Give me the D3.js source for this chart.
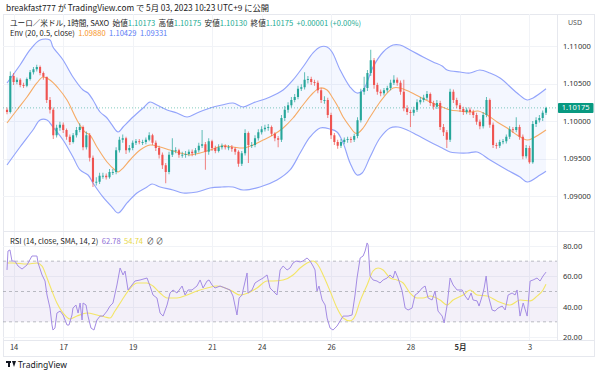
<!DOCTYPE html>
<html><head><meta charset="utf-8">
<script src="https://cdn.jsdelivr.net/npm/d3@7"></script>
<style>body{margin:0;background:#fff;} svg{display:block;font-family:"Noto Sans CJK JP","Noto Sans",sans-serif;}</style>
</head><body><svg id="c" width="600" height="375"></svg>
<script>
// ---------- DATA (2-hour candles; index i sits at hourly bar 2*i) ----------
const firstOpen = 1.1015;
const closes = [
1.1012,1.1060,1.1052,1.1055,1.1048,1.1047,1.1056,1.1065,1.1069,1.1072,
1.1064,1.1059,1.1028,1.1015,1.0981,1.0991,1.0995,1.0988,1.0979,1.0972,
1.0981,1.0988,1.0992,1.0965,1.0981,1.0951,1.0919,1.0919,1.0927,1.0927,
1.0925,1.0932,1.0932,1.0961,1.0975,1.0977,1.0961,1.0964,1.0971,1.0973,
1.0972,1.0972,1.0975,1.0981,1.0971,1.0964,1.0955,1.0941,1.0932,1.0955,
1.0961,1.0961,1.0955,1.0955,1.0956,1.0959,1.0957,1.0961,1.0967,1.0969,
1.0959,1.0973,1.0964,1.0960,1.0965,1.0967,1.0965,1.0965,1.0963,1.0959,
1.0943,1.0957,1.0984,1.0968,1.0968,1.0977,1.0985,1.0989,1.0991,1.0992,
1.0983,1.0977,1.0975,1.1004,1.1015,1.1021,1.1028,1.1032,1.1043,1.1045,
1.1055,1.1056,1.1052,1.1051,1.1041,1.1028,1.1028,1.1008,1.0981,1.0972,
1.0967,1.0972,1.0975,1.0976,1.0975,1.0980,1.1001,1.1039,1.1044,1.1064,
1.1081,1.1048,1.1039,1.1037,1.1041,1.1044,1.1051,1.1055,1.1051,1.1039,
1.1017,1.1012,1.1011,1.1015,1.1025,1.1028,1.1031,1.1036,1.1024,1.1019,
1.1024,1.0992,1.0985,1.0975,1.1039,1.1028,1.1021,1.1016,1.1012,1.1015,
1.1012,1.1008,1.0999,1.0993,1.1008,1.1028,1.0995,1.0968,1.0967,1.0972,
1.0973,1.0979,1.0989,1.0988,1.0992,1.0979,1.0953,1.0964,1.0945,1.0996,
1.1001,1.1004,1.1011,1.10175];
const highs = [
1.1018,1.1066,1.1064,1.1058,1.1057,1.1051,1.1058,1.1068,1.1072,1.1075,
1.1074,1.1066,1.1058,1.1032,1.1018,1.0995,1.0999,1.0998,1.0990,1.0982,
1.0984,1.0992,1.0997,1.0994,1.0986,1.0984,1.0954,1.0925,1.0931,1.0931,
1.0930,1.0936,1.0936,1.0965,1.0979,1.0982,1.0979,1.0968,1.0974,1.0976,
1.0976,1.0975,1.0978,1.0985,1.0983,1.0974,1.0967,1.0958,1.0944,1.0959,
1.0977,1.0965,1.0963,1.0959,1.0960,1.0962,1.0962,1.0964,1.0971,1.0988,
1.0972,1.0977,1.0975,1.0967,1.0969,1.0970,1.0969,1.0968,1.0968,1.0965,
1.0961,1.0960,1.0989,1.0986,1.0972,1.0981,1.0989,1.0993,1.0995,1.0996,
1.0994,1.0985,1.0980,1.1008,1.1020,1.1025,1.1032,1.1036,1.1047,1.1049,
1.1065,1.1060,1.1059,1.1055,1.1054,1.1044,1.1033,1.1031,1.1011,1.0984,
1.0975,1.0976,1.0978,1.0979,1.0979,1.0983,1.1005,1.1043,1.1059,1.1068,
1.1095,1.1084,1.1051,1.1042,1.1044,1.1047,1.1055,1.1061,1.1058,1.1054,
1.1055,1.1021,1.1015,1.1019,1.1029,1.1032,1.1035,1.1040,1.1038,1.1027,
1.1028,1.1027,1.0996,1.0988,1.1043,1.1042,1.1031,1.1024,1.1019,1.1018,
1.1018,1.1015,1.1011,1.1002,1.1012,1.1032,1.1030,1.0998,1.0971,1.0975,
1.0976,1.0982,1.0993,1.0992,1.1005,1.0995,1.0982,1.0968,1.0967,1.1000,
1.1005,1.1008,1.1014,1.1019];
const lows = [
1.1009,1.1010,1.1048,1.1049,1.1045,1.1044,1.1045,1.1054,1.1062,1.1066,
1.1061,1.1055,1.1024,1.1010,1.0976,1.0978,1.0987,1.0984,1.0975,1.0968,
1.0970,1.0978,1.0985,1.0961,1.0962,1.0946,1.0912,1.0914,1.0916,1.0923,
1.0922,1.0923,1.0928,1.0929,1.0958,1.0971,1.0956,1.0958,1.0961,1.0968,
1.0969,1.0968,1.0969,1.0973,1.0968,1.0960,1.0950,1.0936,1.0917,1.0929,
1.0952,1.0957,1.0951,1.0951,1.0951,1.0953,1.0953,1.0954,1.0958,1.0964,
1.0935,1.0955,1.0960,1.0957,1.0958,1.0962,1.0962,1.0961,1.0959,1.0955,
1.0939,1.0940,1.0954,1.0944,1.0964,1.0965,1.0974,1.0982,1.0986,1.0987,
1.0980,1.0973,1.0965,1.0972,1.1000,1.1011,1.1018,1.1025,1.1029,1.1040,
1.1042,1.1050,1.1048,1.1047,1.1037,1.1024,1.1023,1.1004,1.0976,1.0968,
1.0963,1.0964,1.0969,1.0971,1.0971,1.0972,1.0977,1.0998,1.1035,1.1040,
1.1060,1.1043,1.1035,1.1033,1.1034,1.1038,1.1041,1.1048,1.1047,1.1035,
1.1013,1.1008,1.0992,1.1007,1.1012,1.1022,1.1025,1.1028,1.1020,1.1015,
1.1016,1.0988,1.0980,1.0964,1.0972,1.1024,1.1017,1.1012,1.1008,1.1009,
1.1008,1.1004,1.0995,1.0989,1.0990,1.1005,1.0991,1.0964,1.0963,1.0964,
1.0969,1.0970,1.0976,1.0984,1.0985,1.0975,1.0949,1.0950,1.0943,1.0943,
1.0992,1.0998,1.1000,1.1008];

// Envelope (20, 0.5): [hourly bar, price]
const envUpper = [[0,1.10507],[7.9,1.10747],[13.9,1.10947],[20,1.1108],[26,1.1108],[27.8,1.10987],[33.9,1.10813],[39.9,1.10587],[46,1.10413],[49,1.10373],[52,1.1028],[56.3,1.1012],[60.5,1.1004],[63.5,1.09947],[67.2,1.09853],[70.2,1.0992],[76.2,1.10053],[82.3,1.10173],[86.5,1.10253],[90.7,1.10213],[96.8,1.10147],[102.8,1.10107],[108.9,1.10053],[114.9,1.10107],[122.8,1.10173],[130,1.10213],[136.7,1.1024],[142.8,1.10187],[148.8,1.1024],[159.1,1.1032],[167,1.10413],[173,1.10547],[179,1.1072],[185.1,1.10907],[189.4,1.10987],[193.6,1.10987],[196.6,1.1092],[201.5,1.1068],[207.5,1.10453],[211.7,1.10373],[215.4,1.10413],[221.4,1.1072],[227.5,1.1092],[233.5,1.11013],[237.7,1.11013],[243.8,1.10947],[251.7,1.10853],[257.7,1.10787],[263.2,1.10733],[266.2,1.1068],[274,1.10653],[280,1.1064],[286,1.1068],[292,1.1064],[298.2,1.10573],[308.5,1.10373],[314.6,1.1028],[318.2,1.10307],[326,1.10429]];
const envLower = [[0,1.09413],[7.9,1.09653],[15.7,1.0988],[20,1.10013],[24.2,1.10013],[27.8,1.0992],[33.9,1.09747],[39.9,1.0952],[44.2,1.09347],[49,1.0928],[52,1.09173],[58,1.08987],[63.5,1.08853],[67.2,1.08773],[72.6,1.08907],[78.6,1.0904],[84.7,1.0912],[87.7,1.0916],[92.6,1.0912],[100.4,1.0908],[106.5,1.0904],[114.9,1.09053],[122.8,1.09107],[130,1.0912],[136.7,1.0912],[142.8,1.0908],[153,1.0912],[163.3,1.09213],[171.2,1.09347],[177.3,1.09573],[183.3,1.09787],[189.4,1.09907],[195.4,1.09893],[199.6,1.09853],[203.3,1.09707],[207.5,1.0944],[211.7,1.0928],[214.8,1.09307],[219.6,1.0952],[225.6,1.09773],[231.7,1.09907],[236.5,1.0992],[242,1.0988],[248,1.09813],[255.9,1.0972],[263.2,1.0964],[268,1.09587],[278.3,1.09573],[284.3,1.09587],[292.2,1.0948],[302.5,1.09347],[310.3,1.09253],[314.6,1.09187],[322.4,1.0928],[326,1.09331]];
const envBasis = [[0,1.09973],[6,1.10147],[12.1,1.1032],[18.1,1.10507],[21.8,1.10587],[26,1.10547],[30.9,1.1044],[36.3,1.1028],[42.3,1.10013],[47.2,1.09853],[50.2,1.09813],[54.4,1.09653],[60.5,1.09453],[65.3,1.09347],[67.2,1.0932],[70.2,1.09373],[74.4,1.0948],[80.5,1.09613],[86.5,1.0968],[92.6,1.09653],[98.6,1.09613],[104.7,1.09573],[110.7,1.09547],[116.8,1.09573],[122.8,1.09613],[130,1.09667],[136.7,1.09653],[142.8,1.0964],[148.8,1.0968],[154.9,1.09747],[160.9,1.09813],[167,1.09907],[173,1.1004],[179,1.10213],[185.1,1.10373],[189.4,1.1044],[193.6,1.10413],[196.6,1.1032],[199.6,1.10213],[203.3,1.10053],[207.5,1.0992],[210.5,1.0984],[212.3,1.0984],[215.4,1.09907],[219.6,1.10053],[225.6,1.10253],[229.9,1.10373],[233.5,1.1044],[237.7,1.1044],[243.8,1.10387],[249.8,1.1032],[255.9,1.10253],[263.2,1.10187],[268,1.10147],[274,1.10133],[280,1.1012],[284.9,1.10133],[290.4,1.1008],[296.4,1.09987],[302.5,1.09907],[308.5,1.09813],[314.6,1.09747],[318.2,1.09773],[326,1.0988]];

// RSI (14) and its SMA(14): [hourly bar, value]
const rsi = [[0,64.2],[0.6,76.7],[1.8,77.4],[3,70.1],[4.8,70],[6.7,66.8],[9.1,64.8],[12.1,67.5],[15.1,73.4],[18.1,73.4],[18.8,68.8],[21.2,60.9],[23,56.9],[24.2,47.7],[26,39.1],[27.2,28],[27.8,24.6],[29,25.9],[30.2,35.8],[32.1,37.1],[33.9,34.5],[36.3,27.9],[37.5,27.9],[39.3,34.5],[39.9,39.1],[41.7,41.1],[43,35.8],[44.2,42.4],[45.4,31.2],[46,42.4],[47.8,41.1],[49,33.8],[50.8,25.9],[52.6,24.6],[54.4,31.2],[56.3,33.8],[58.1,33.8],[60.5,37.1],[62.3,40.4],[64.1,42.4],[66.5,54.3],[68.4,65.5],[70.2,60.9],[71.4,63.5],[73.2,51],[75.6,54.3],[77.4,56.9],[80.5,57.6],[84.7,58.9],[86.5,53.6],[88.3,47.7],[90.7,45.7],[92.6,35.8],[94.4,33.8],[96.8,41.1],[98.6,49],[100.4,51],[102.8,49],[105.9,53.6],[107.7,47.7],[109.5,51],[111.9,51],[114.9,53.6],[116.8,57.6],[118.6,52.3],[121,56.9],[122.2,57.6],[124,54.3],[125.8,52.3],[128.9,53.6],[131.9,52.3],[134.9,51],[136.7,47],[139.1,34.5],[140.4,45.7],[142.2,47.7],[142.8,51],[145.2,62.2],[145.8,49],[148.2,51],[150,55.6],[151.8,56.9],[154.9,58.9],[157.3,60.9],[159.1,52.3],[160.9,50.3],[163.3,47.7],[165.2,64.2],[167,66.8],[169.4,64.2],[171.2,65.5],[173,68.8],[174.8,70.1],[177.3,69.5],[179,70.1],[181.5,72.1],[183.3,70.1],[185.1,66.8],[186.3,64.2],[187.5,50.3],[188.7,53.6],[190.6,44.4],[192.4,41.1],[193.6,32.5],[195.4,25.9],[197.2,24.6],[199.6,27.2],[201.5,30.6],[203.3,33.8],[206.3,33.8],[208.7,34.5],[210.5,47.7],[211.7,58.9],[213.6,72.1],[215.4,73.4],[216.6,76.7],[217.8,82],[218.4,80.7],[219.6,60.2],[221.4,57.6],[223.8,56.9],[225.6,55.6],[227.5,57.6],[229.9,58.9],[231.7,60.9],[233.5,58.9],[234.7,63.5],[236.5,58.9],[239,50.3],[240.8,39.1],[242.6,37.8],[245,39.1],[246.8,47.7],[248.6,49],[251.1,52.3],[252.9,53.6],[254.7,45.7],[257.1,44.4],[258.9,50.3],[260.7,37.1],[263.2,33.8],[264.4,29.3],[266.2,41.1],[268,58.9],[269.8,54.3],[272.2,51],[275.3,51],[277.1,47],[278.9,44.4],[280.7,49],[281.9,44.4],[284.3,43.8],[285.5,40.4],[287.4,47],[288.6,52.3],[289.8,60.2],[291,47.7],[293.4,37.8],[295.2,37.1],[297,39.1],[299.5,40.4],[301.3,37.8],[303.1,47.7],[305.5,49],[307.3,47.7],[308.5,51],[310.3,33.8],[312.2,42.4],[314.6,33.8],[316.4,56.9],[318.2,57.6],[320.6,58.9],[322.4,56.9],[324.2,60.2],[326,62.78]];
const rsiMA = [[0,68.8],[3.6,68.8],[12.1,68.1],[18.1,68.8],[21.2,66.8],[24.2,58.9],[27.2,50.3],[30.2,42.4],[33.9,35.8],[38.1,31.9],[42.3,33.8],[48.4,35.8],[54.4,34.5],[59.3,33.2],[62.3,32.5],[65.3,37.1],[69.6,44.4],[73.2,50.3],[78.6,55.6],[84.7,55.6],[88.3,53.6],[92.6,49],[96.8,45.7],[102.8,45.7],[108.9,47.7],[114.9,50.3],[121,52.3],[127,53.6],[134.9,51],[141,47.7],[145.8,49],[151.2,52.3],[157.3,56.9],[160.9,56.9],[167,57.6],[173,60.9],[177.3,65.5],[181.5,68.8],[185.1,70.1],[188.1,67.5],[191.2,60.9],[195.4,50.3],[199.6,39.1],[203.3,32.5],[207.5,30.6],[210.5,33.8],[213.6,43.8],[217.8,54.3],[221.4,63.5],[224.4,65.5],[227.5,64.2],[231.7,58.9],[235.9,57.6],[239.6,55.6],[243.8,49],[248,45.7],[251.7,45.7],[255.9,47],[261.9,44.4],[266.2,41.1],[269.8,44.4],[275.9,47.7],[280.1,51],[284.3,47.7],[290.4,47],[296.4,43.8],[304.3,41.1],[310.3,44.4],[316.4,43.8],[320.6,47],[324.2,51],[326,54.74]];

// axes labels
const timeTickBars = [4,34,76,124,154,196,244,274,316];
const timeTickLabels = ["14","17","19","21","24","26","28","5月","3"];
const priceTicks = [1.09,1.095,1.10,1.105,1.11];
const rsiTicks = [20,40,60,80];
const rsiLevels = [70,50,30];
const lastPrice = 1.10175;

// ---------- LAYOUT ----------
const svg = d3.select("#c");
const L = 3, R = 557, mainT = 14, mainB = 231, rsiB = 340, frameB = 356, frameR = 594;
const x = d3.scaleLinear().domain([0,326]).range([7,546]);
const yP = d3.scaleLinear().domain([1.09,1.11]).range([196,46]);
const yR = d3.scaleLinear().domain([20,80]).range([337,246]);
const GREEN = "#26a69a", RED = "#ef5350";

const defs = svg.append("defs");
defs.append("clipPath").attr("id","cm").append("rect").attr("x",L).attr("y",mainT).attr("width",R-L).attr("height",mainB-mainT);
defs.append("clipPath").attr("id","cr").append("rect").attr("x",L).attr("y",mainB).attr("width",R-L).attr("height",rsiB-mainB);

// frame
svg.append("rect").attr("x",L+0.5).attr("y",mainT+0.5).attr("width",frameR-L).attr("height",frameB-mainT)
  .attr("fill","none").attr("stroke","#e6e8ee");
// grid
const grid = svg.append("g").attr("stroke","#f1f3f7").attr("stroke-width",1);
grid.selectAll(".vg").data(timeTickBars).join("line")
  .attr("x1",d=>Math.round(x(d))+0.5).attr("x2",d=>Math.round(x(d))+0.5).attr("y1",mainT).attr("y2",rsiB);
grid.selectAll(".hg").data(priceTicks).join("line")
  .attr("x1",L).attr("x2",R).attr("y1",d=>Math.round(yP(d))+0.5).attr("y2",d=>Math.round(yP(d))+0.5);
grid.selectAll(".rg").data(rsiTicks).join("line")
  .attr("x1",L).attr("x2",R).attr("y1",d=>Math.round(yR(d))+0.5).attr("y2",d=>Math.round(yR(d))+0.5);
// separators
svg.append("line").attr("x1",R+0.5).attr("x2",R+0.5).attr("y1",mainT).attr("y2",rsiB).attr("stroke","#e6e8ee");
svg.append("line").attr("x1",L).attr("x2",frameR).attr("y1",mainB+0.5).attr("y2",mainB+0.5).attr("stroke","#e6e8ee");
svg.append("line").attr("x1",L).attr("x2",frameR).attr("y1",rsiB+0.5).attr("y2",rsiB+0.5).attr("stroke","#e6e8ee");

// ---------- MAIN PANE ----------
const gm = svg.append("g").attr("clip-path","url(#cm)");
const lineP = d3.line().x(d=>x(d[0])).y(d=>yP(d[1])).curve(d3.curveCatmullRom.alpha(0.5));
const upD = lineP(envUpper);
const loD = lineP(envLower.slice().reverse()).replace(/^M/,"L");
gm.append("path").attr("d",upD+loD+"Z").attr("fill","#2962ff").attr("fill-opacity",0.05);
gm.append("path").attr("d",lineP(envUpper)).attr("fill","none").attr("stroke","#93a4fb").attr("stroke-width",1.15);
gm.append("path").attr("d",lineP(envLower)).attr("fill","none").attr("stroke","#93a4fb").attr("stroke-width",1.15);
gm.append("path").attr("d",lineP(envBasis)).attr("fill","none").attr("stroke","#f6ab66").attr("stroke-width",1.1);

// last price dotted line
gm.append("line").attr("x1",L).attr("x2",R).attr("y1",yP(lastPrice)).attr("y2",yP(lastPrice))
  .attr("stroke","#089981").attr("stroke-opacity",0.5).attr("stroke-dasharray","1,2");

// candles
const candles = closes.map((c,i)=>({i, o: i? closes[i-1] : firstOpen, c, h: highs[i], l: lows[i]}));
const cg = gm.append("g");
cg.selectAll(".wk").data(candles).join("line")
  .attr("x1",d=>x(2*d.i)).attr("x2",d=>x(2*d.i))
  .attr("y1",d=>yP(d.h)).attr("y2",d=>yP(d.l))
  .attr("stroke",d=>d.c>=d.o?GREEN:RED).attr("stroke-width",0.9).attr("stroke-opacity",0.8);
cg.selectAll(".bd").data(candles).join("rect")
  .attr("x",d=>x(2*d.i)-1.05).attr("width",2.1)
  .attr("y",d=>yP(Math.max(d.o,d.c)))
  .attr("height",d=>Math.max(0.9, Math.abs(yP(d.o)-yP(d.c))))
  .attr("fill",d=>d.c>=d.o?GREEN:RED);

// price axis
const pAx = svg.append("g").attr("transform",`translate(${R},0)`)
  .call(d3.axisRight(yP).tickValues(priceTicks).tickFormat(d3.format(".5f")).tickSize(0).tickPadding(6));
pAx.select(".domain").remove();
pAx.selectAll("text").attr("font-size",7.5).attr("fill","#333").attr("font-family","Noto Sans, sans-serif");
svg.append("text").attr("x",575).attr("y",24.5).attr("text-anchor","middle").attr("font-size",7)
  .attr("fill","#555").attr("font-family","Noto Sans, sans-serif").text("USD");
// last price label
svg.append("rect").attr("x",558).attr("y",yP(lastPrice)-5).attr("width",35.5).attr("height",10).attr("rx",1).attr("fill","#089981");
svg.append("text").attr("x",575.7).attr("y",yP(lastPrice)+2.6).attr("text-anchor","middle").attr("font-size",7.5)
  .attr("fill","#fff").attr("font-family","Noto Sans, sans-serif").text(lastPrice.toFixed(5));

// ---------- RSI PANE ----------
const gr = svg.append("g").attr("clip-path","url(#cr)");
gr.append("rect").attr("x",L).attr("width",R-L).attr("y",yR(70)).attr("height",yR(30)-yR(70))
  .attr("fill","#7e57c2").attr("fill-opacity",0.09);
gr.selectAll(".lv").data(rsiLevels).join("line")
  .attr("x1",L).attr("x2",R).attr("y1",d=>yR(d)).attr("y2",d=>yR(d))
  .attr("stroke","#9598a1").attr("stroke-opacity",0.8).attr("stroke-dasharray","3,3").attr("stroke-width",0.8);
const lineR = d3.line().x(d=>x(d[0])).y(d=>yR(d[1]));
gr.append("path").attr("d",lineR.curve(d3.curveMonotoneX)(rsiMA)).attr("fill","none").attr("stroke","#f3e566").attr("stroke-width",1.1);
gr.append("path").attr("d",lineR.curve(d3.curveLinear)(rsi)).attr("fill","none").attr("stroke","#a48ce4").attr("stroke-width",1);

const rAx = svg.append("g").attr("transform",`translate(${R},0)`)
  .call(d3.axisRight(yR).tickValues(rsiTicks).tickFormat(d3.format(".2f")).tickSize(0).tickPadding(6));
rAx.select(".domain").remove();
rAx.selectAll("text").attr("font-size",7.5).attr("fill","#333").attr("font-family","Noto Sans, sans-serif");

// ---------- TIME AXIS ----------
const tAx = svg.append("g").attr("transform",`translate(0,${rsiB})`)
  .call(d3.axisBottom(x).tickValues(timeTickBars).tickFormat((d,i)=>timeTickLabels[i]).tickSize(0).tickPadding(5));
tAx.select(".domain").remove();
tAx.selectAll("text").attr("font-size",7.5).attr("fill","#333").attr("font-family","Noto Sans CJK JP, Noto Sans, sans-serif")
  .attr("font-weight",(d,i)=>timeTickLabels[i]==="5月"?"bold":"normal");

// ---------- TEXTS ----------
svg.append("text").attr("x",6).attr("y",10.5).attr("font-size",8.3).attr("fill","#222")
  .text("breakfast777 が TradingView.com で 5月 03, 2023 10:23 UTC+9 に公開");

const legend1 = [["ユーロ／米ドル, 1時間, SAXO  ","#222"],["始値","#222"],["1.10173  ","#22ab94"],["高値","#222"],["1.10175  ","#22ab94"],
  ["安値","#222"],["1.10130  ","#22ab94"],["終値","#222"],["1.10175  ","#22ab94"],["+0.00001 (+0.00%)","#22ab94"]];
const t1 = svg.append("text").attr("x",10).attr("y",25.5).attr("font-size",7.6).attr("xml:space","preserve");
t1.selectAll("tspan").data(legend1).join("tspan").attr("fill",d=>d[1]).text(d=>d[0]);
const legend2 = [["Env (20, 0.5, close)  ","#222"],["1.09880  ","#f7931e"],["1.10429  ","#5b7cf5"],["1.09331","#5b7cf5"]];
const t2 = svg.append("text").attr("x",10).attr("y",35.5).attr("font-size",7.6).attr("xml:space","preserve");
t2.selectAll("tspan").data(legend2).join("tspan").attr("fill",d=>d[1]).text(d=>d[0]);
const legend3 = [["RSI (14, close, SMA, 14, 2)  ","#222"],["62.78  ","#8e6fd6"],["54.74  ","#e8d84a"],["∅ ∅","#555"]];
const t3 = svg.append("text").attr("x",10).attr("y",243.5).attr("font-size",7.6).attr("xml:space","preserve");
t3.selectAll("tspan").data(legend3).join("tspan").attr("fill",d=>d[1]).text(d=>d[0]);

// TradingView logo
const lg = svg.append("g").attr("transform","translate(6,361)").attr("fill","#131722");
lg.append("rect").attr("x",0).attr("y",0).attr("width",5).attr("height",2);
lg.append("rect").attr("x",2).attr("y",0).attr("width",2).attr("height",6);
lg.append("path").attr("d","M6,0 L10,0 L8,6 Z");
svg.append("text").attr("x",18).attr("y",367.5).attr("font-size",8.5).attr("fill","#131722")
  .attr("font-family","Noto Sans, sans-serif").text("TradingView");
</script></body></html>
